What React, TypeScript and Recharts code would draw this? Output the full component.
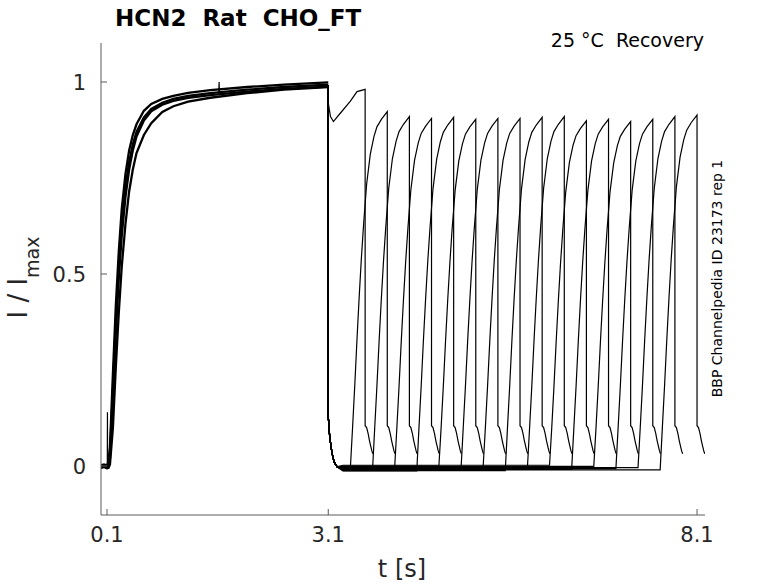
import React from 'react';
import { LineChart, Line, XAxis, YAxis } from 'recharts';

const FONT = '"DejaVu Sans", sans-serif';
const INK = '#262626';
const AXIS = '#5a5a5a';

const X_TICKS = [0.1, 3.1, 8.1];
const Y_TICKS = [0, 0.5, 1];
const X_DOMAIN = [0.0186, 8.208];
const Y_DOMAIN = [-0.1276, 1.1016];

// activating step 0.1 -> 3.1 s, a few overlapping sweeps (upper edge .. slow one)
const ACT_T = [0.02, 0.06, 0.1, 0.12, 0.14, 0.18, 0.22, 0.26, 0.3, 0.35, 0.4, 0.45, 0.5, 0.6, 0.7, 0.85, 1.0, 1.2, 1.5, 2.0, 2.5, 3.1];
const ACT_HIGH = [0.002, 0.004, 0.001, 0.012, 0.05, 0.24, 0.42, 0.56, 0.67, 0.76, 0.822, 0.862, 0.89, 0.925, 0.943, 0.956, 0.964, 0.972, 0.979, 0.987, 0.993, 0.999];
const ACT_MID = [-0.003, 0.0, -0.004, 0.002, 0.03, 0.2, 0.38, 0.52, 0.63, 0.725, 0.792, 0.838, 0.87, 0.908, 0.93, 0.946, 0.956, 0.964, 0.971, 0.98, 0.987, 0.993];
const ACT_MID2 = [-0.005, -0.002, -0.006, -0.003, 0.02, 0.17, 0.35, 0.49, 0.6, 0.7, 0.772, 0.822, 0.858, 0.9, 0.924, 0.941, 0.951, 0.959, 0.966, 0.975, 0.982, 0.988];
const ACT_LOW = [-0.004, -0.002, -0.005, -0.005, 0.004, 0.1, 0.26, 0.4, 0.52, 0.63, 0.715, 0.772, 0.815, 0.862, 0.893, 0.922, 0.937, 0.949, 0.959, 0.971, 0.98, 0.987];

// artefact spikes on one sweep
const SPIKE_A_T = [0.104, 0.106, 0.108];
const SPIKE_A_I = [0.0, 0.14, 0.01];
const SPIKE_B_T = [1.615, 1.62, 1.625];
const SPIKE_B_I = [0.968, 1.0, 0.968];

// recovery protocol: second pulse start per sweep, 0.5 s long
const PULSE_START = [3.1, 3.4, 3.7, 4.0, 4.3, 4.6, 4.9, 5.2, 5.5, 5.8, 6.1, 6.4, 6.7, 7.0, 7.3, 7.6];
const PULSE_LEN = 0.5;
const PEAKS = [0.981, 0.923, 0.91, 0.905, 0.908, 0.903, 0.905, 0.905, 0.908, 0.91, 0.899, 0.903, 0.897, 0.903, 0.91, 0.914];
const BASE_LEVEL = [0, -0.004, -0.011, -0.006, -0.013, 0.0, -0.008, -0.002, -0.012, -0.005, 0.002, -0.009, -0.001, -0.007, -0.004, -0.01];

// sweep with no gap
const FIRST_T = [3.1, 3.13, 3.17, 3.26, 3.4, 3.49, 3.6];
const FIRST_I = [0.945, 0.91, 0.897, 0.918, 0.95, 0.975, 0.981];

// deactivation tail after 3.1 s
const DEACT_T = [3.1, 3.105, 3.12, 3.15, 3.18, 3.22];
const DEACT_I = [0.13, 0.115, 0.075, 0.034, 0.01, -0.002];

// second pulse rise (relative time, fraction of peak)
const RISE_DT = [0, 0.03, 0.06, 0.09, 0.12, 0.15, 0.18, 0.22, 0.27, 0.32, 0.36, 0.42, 0.5];
const RISE_FRAC = [0, 0.11, 0.23, 0.36, 0.48, 0.59, 0.685, 0.795, 0.88, 0.93, 0.957, 0.978, 1.0];

// tail after second pulse
const TAIL_DT = [0, 0.02, 0.04, 0.06, 0.09, 0.105];
const TAIL_I = [0.105, 0.1, 0.085, 0.065, 0.04, 0.032];

type Pt = { t: number; i: number };

const zip = (ts: number[], is: number[]): Pt[] => ts.map((t, j) => ({ t, i: is[j] }));

const activation = [ACT_HIGH, ACT_MID, ACT_MID2, ACT_LOW].map((vals) => zip(ACT_T, vals));
const spikes = [zip(SPIKE_A_T, SPIKE_A_I), zip(SPIKE_B_T, SPIKE_B_I)];

const sweeps: Pt[][] = PULSE_START.map((start, k) => {
  const pts: Pt[] = [{ t: 3.1, i: 0.992 }];
  if (k === 0) {
    pts.push(...zip(FIRST_T, FIRST_I));
  } else {
    pts.push(...zip(DEACT_T, DEACT_I));
    pts.push({ t: 3.3, i: BASE_LEVEL[k] });
    pts.push({ t: start, i: BASE_LEVEL[k] });
    RISE_DT.forEach((dt, j) => {
      if (j > 0) pts.push({ t: start + dt, i: RISE_FRAC[j] * PEAKS[k] });
    });
  }
  const end = start + PULSE_LEN;
  TAIL_DT.forEach((dt, j) => pts.push({ t: end + dt, i: TAIL_I[j] }));
  return pts;
});

function XTick(props: any) {
  const { x, y, payload } = props;
  return (
    <g>
      <line x1={x} x2={x} y1={y} y2={y - 6} stroke={AXIS} strokeWidth={1} />
      <text x={x} y={y + 27} textAnchor="middle" fontSize={21} fill={INK} fontFamily={FONT}>
        {payload.value}
      </text>
    </g>
  );
}

function YTick(props: any) {
  const { x, y, payload } = props;
  return (
    <g>
      <line x1={x} x2={x + 6} y1={y} y2={y} stroke={AXIS} strokeWidth={1} />
      <text x={x - 15} y={y + 7.5} textAnchor="end" fontSize={21} fill={INK} fontFamily={FONT}>
        {payload.value}
      </text>
    </g>
  );
}

export default function App() {
  return (
    <div style={{ position: 'absolute', left: 0, top: 0, width: 778, height: 583, background: '#fff' }}>
      <LineChart width={778} height={583} margin={{ top: 43, right: 73, bottom: 28, left: 51 }}>
        <XAxis
          type="number"
          dataKey="t"
          domain={X_DOMAIN}
          ticks={X_TICKS}
          interval={0}
          height={40}
          tickSize={0}
          tickMargin={0}
          tickLine={false}
          tick={XTick}
          axisLine={{ stroke: AXIS }}
          allowDataOverflow
        />
        <YAxis
          type="number"
          domain={Y_DOMAIN}
          ticks={Y_TICKS}
          interval={0}
          width={50}
          tickSize={0}
          tickMargin={0}
          tickLine={false}
          tick={YTick}
          axisLine={{ stroke: AXIS }}
          allowDataOverflow
        />
        {activation.map((d, n) => (
          <Line key={'act' + n} data={d} dataKey="i" stroke="#000" strokeWidth={2.3} dot={false} isAnimationActive={false} />
        ))}
        {spikes.map((d, n) => (
          <Line key={'sp' + n} data={d} dataKey="i" stroke="#000" strokeWidth={1.2} dot={false} isAnimationActive={false} />
        ))}
        {sweeps.map((d, n) => (
          <Line key={'sw' + n} data={d} dataKey="i" stroke="#000" strokeWidth={1.2} dot={false} isAnimationActive={false} />
        ))}
      </LineChart>
      <svg width={778} height={583} style={{ position: 'absolute', left: 0, top: 0, pointerEvents: 'none' }}>
        <text x={115} y={26} fontSize={23} fontWeight="bold" fill="#000" fontFamily={FONT} style={{ whiteSpace: 'pre' }}>
          {'HCN2  Rat  CHO_FT'}
        </text>
        <text x={704} y={47} textAnchor="end" fontSize={19} fill="#000" fontFamily={FONT} style={{ whiteSpace: 'pre' }}>
          {'25 °C  Recovery'}
        </text>
        <text
          transform="translate(722,278.5) rotate(-90)"
          textAnchor="middle"
          fontSize={14}
          fill="#000"
          fontFamily={FONT}
        >
          BBP Channelpedia ID 23173 rep 1
        </text>
        <text transform="translate(27,277.5) rotate(-90)" textAnchor="middle" fontSize={26} fill={INK} fontFamily={FONT}>
          I / I
          <tspan fontSize={19} dy={12}>
            max
          </tspan>
        </text>
        <text x={402} y={577} textAnchor="middle" fontSize={24} fill={INK} fontFamily={FONT}>
          t [s]
        </text>
      </svg>
    </div>
  );
}
